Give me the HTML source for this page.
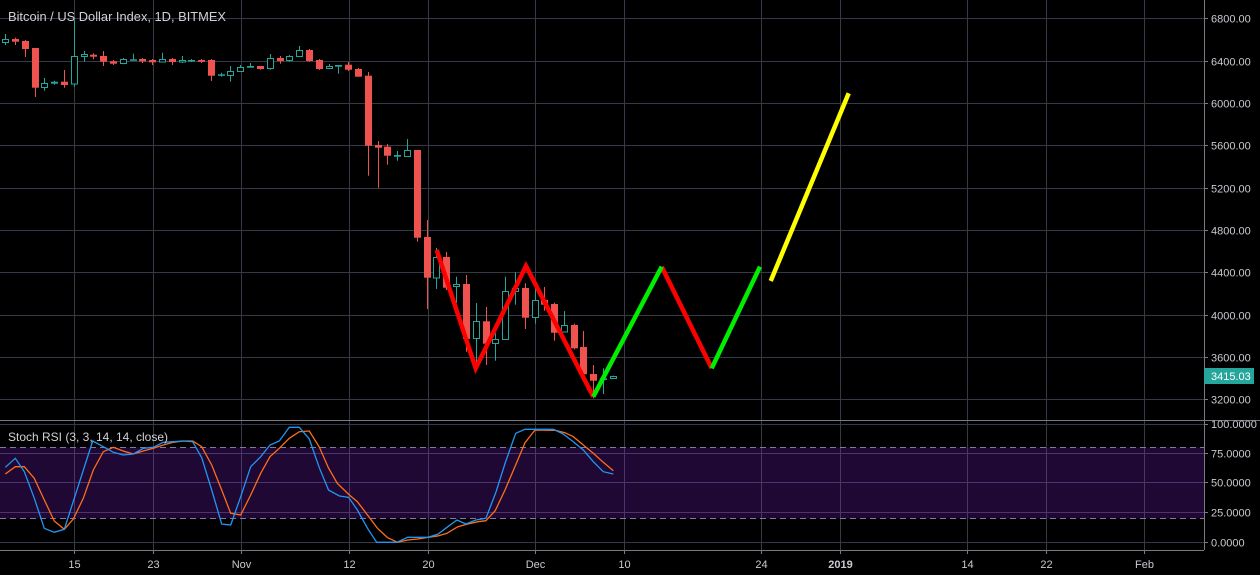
<!DOCTYPE html>
<html><head><meta charset="utf-8"><style>
html,body{margin:0;padding:0;background:#000;}
svg{display:block;}
text{font-family:"Liberation Sans",sans-serif;}
</style></head><body>
<svg width="1260" height="575" viewBox="0 0 1260 575" xmlns="http://www.w3.org/2000/svg">
<rect width="1260" height="575" fill="#000"/>
<!-- vertical grid -->
<g stroke="#363a48" stroke-width="1">
<line x1="74.5" y1="0" x2="74.5" y2="550"/>
<line x1="153.5" y1="0" x2="153.5" y2="550"/>
<line x1="241.5" y1="0" x2="241.5" y2="550"/>
<line x1="349.5" y1="0" x2="349.5" y2="550"/>
<line x1="428.5" y1="0" x2="428.5" y2="550"/>
<line x1="535.5" y1="0" x2="535.5" y2="550"/>
<line x1="624.5" y1="0" x2="624.5" y2="550"/>
<line x1="761.5" y1="0" x2="761.5" y2="550"/>
<line x1="840.5" y1="0" x2="840.5" y2="550"/>
<line x1="967.5" y1="0" x2="967.5" y2="550"/>
<line x1="1046.5" y1="0" x2="1046.5" y2="550"/>
<line x1="1144.5" y1="0" x2="1144.5" y2="550"/>
<!-- horizontal price grid -->
<line x1="0" y1="18.5" x2="1204" y2="18.5"/>
<line x1="0" y1="61.5" x2="1204" y2="61.5"/>
<line x1="0" y1="103.5" x2="1204" y2="103.5"/>
<line x1="0" y1="145.5" x2="1204" y2="145.5"/>
<line x1="0" y1="188.5" x2="1204" y2="188.5"/>
<line x1="0" y1="230.5" x2="1204" y2="230.5"/>
<line x1="0" y1="272.5" x2="1204" y2="272.5"/>
<line x1="0" y1="315.5" x2="1204" y2="315.5"/>
<line x1="0" y1="357.5" x2="1204" y2="357.5"/>
<line x1="0" y1="399.5" x2="1204" y2="399.5"/>
<!-- rsi grid -->
<line x1="0" y1="424.5" x2="1204" y2="424.5"/>
<line x1="0" y1="453.5" x2="1204" y2="453.5"/>
<line x1="0" y1="482.5" x2="1204" y2="482.5"/>
<line x1="0" y1="512.5" x2="1204" y2="512.5"/>
<line x1="0" y1="542.5" x2="1204" y2="542.5"/>
</g>
<!-- rsi band -->
<rect x="0" y="447.5" width="1204" height="71" fill="rgba(155,40,255,0.2)"/>
<g stroke="#85799a" stroke-width="1" stroke-dasharray="6,4">
<line x1="0" y1="447.5" x2="1204" y2="447.5"/>
<line x1="0" y1="518.5" x2="1204" y2="518.5"/>
</g>

<!-- red candles -->
<g fill="#ef5350" stroke="none">
<rect x="12" y="39" width="7" height="2.7"/><rect x="15" y="37.7" width="1" height="7.3"/>
<rect x="22" y="41" width="7" height="8"/><rect x="25" y="40" width="1" height="17"/>
<rect x="32" y="48" width="7" height="39.7"/><rect x="35" y="48" width="1" height="49"/>
<rect x="61" y="81.7" width="7" height="3.3"/><rect x="64" y="70" width="1" height="17.7"/>
<rect x="90" y="54.7" width="7" height="2"/><rect x="93" y="53.3" width="1" height="6"/>
<rect x="100" y="56" width="7" height="5.7"/><rect x="103" y="51" width="1" height="15"/>
<rect x="110" y="61.3" width="7" height="2.4"/><rect x="113" y="60" width="1" height="5"/>
<rect x="139" y="59" width="7" height="2.3"/><rect x="142" y="58" width="1" height="5"/>
<rect x="149" y="60" width="7" height="2.3"/><rect x="152" y="59" width="1" height="6"/>
<rect x="169" y="59" width="7" height="3"/><rect x="172" y="58" width="1" height="7"/>
<rect x="198" y="60" width="7" height="1.8"/><rect x="201" y="59" width="1" height="4"/>
<rect x="208" y="60" width="7" height="15.7"/><rect x="211" y="59" width="1" height="22"/>
<rect x="257" y="66" width="7" height="3"/><rect x="260" y="66" width="1" height="3.7"/>
<rect x="277" y="58" width="7" height="3"/><rect x="280" y="56" width="1" height="7.7"/>
<rect x="306" y="50" width="7" height="11"/><rect x="309" y="49" width="1" height="12.7"/>
<rect x="316" y="60" width="7" height="9"/><rect x="319" y="59" width="1" height="11"/>
<rect x="345" y="64.7" width="7" height="5"/><rect x="348" y="62" width="1" height="9"/>
<rect x="355" y="69" width="7" height="7.7"/><rect x="358" y="68" width="1" height="8.7"/>
<rect x="365" y="75.7" width="7" height="70"/><rect x="368" y="72" width="1" height="103.7"/>
<rect x="375" y="145" width="7" height="2.7"/><rect x="378" y="141" width="1" height="46.7"/>
<rect x="384" y="146.7" width="7" height="9"/><rect x="387" y="144" width="1" height="20.7"/>
<rect x="414" y="150" width="7" height="87.7"/><rect x="417" y="150" width="1" height="91.7"/>
<rect x="424" y="237" width="7" height="40.7"/><rect x="427" y="220" width="1" height="89"/>
<rect x="443" y="257" width="7" height="30.7"/><rect x="446" y="252" width="1" height="38"/>
<rect x="463" y="284" width="7" height="55"/><rect x="466" y="275" width="1" height="76.7"/>
<rect x="483" y="321.3" width="7" height="22.4"/><rect x="486" y="307" width="1" height="58"/>
<rect x="522" y="288" width="7" height="29.7"/><rect x="525" y="283.3" width="1" height="45.7"/>
<rect x="541" y="300" width="7" height="4.7"/><rect x="544" y="287" width="1" height="23.7"/>
<rect x="551" y="304" width="7" height="28.7"/><rect x="554" y="302.7" width="1" height="38"/>
<rect x="571" y="325" width="7" height="23.3"/><rect x="574" y="323.7" width="1" height="25.6"/>
<rect x="580" y="347" width="7" height="27.3"/><rect x="583" y="331" width="1" height="45"/>
<rect x="590" y="374" width="7" height="6.7"/><rect x="593" y="365" width="1" height="33.3"/>
</g>

<!-- teal candles: wicks -->
<g fill="#26a69a">
<rect x="5" y="34" width="1" height="11"/>
<rect x="44" y="78" width="1" height="12.7"/>
<rect x="54" y="80.7" width="1" height="4"/>
<rect x="74" y="20" width="1" height="66.7"/>
<rect x="84" y="51" width="1" height="10.7"/>
<rect x="123" y="58" width="1" height="6.3"/>
<rect x="133" y="53.7" width="1" height="6.6"/>
<rect x="162" y="52.7" width="1" height="9.3"/>
<rect x="182" y="56" width="1" height="7"/>
<rect x="191" y="59" width="1" height="3"/>
<rect x="221" y="72.7" width="1" height="4"/>
<rect x="230" y="66" width="1" height="15.7"/>
<rect x="240" y="65" width="1" height="6.7"/>
<rect x="250" y="63" width="1" height="4.7"/>
<rect x="270" y="54" width="1" height="15.7"/>
<rect x="289" y="55" width="1" height="6.7"/>
<rect x="299" y="46" width="1" height="10.7"/>
<rect x="329" y="64" width="1" height="4.7"/>
<rect x="338" y="65" width="1" height="8.7"/>
<rect x="397" y="151" width="1" height="9.7"/>
<rect x="407" y="139" width="1" height="17.7"/>
<rect x="436" y="248" width="1" height="41"/>
<rect x="456" y="276.7" width="1" height="26.3"/>
<rect x="476" y="303" width="1" height="67.7"/>
<rect x="495" y="333.3" width="1" height="27.4"/>
<rect x="505" y="276.7" width="1" height="63"/>
<rect x="515" y="272.3" width="1" height="32.4"/>
<rect x="535" y="286.7" width="1" height="37"/>
<rect x="564" y="311" width="1" height="21.3"/>
<rect x="603" y="368.3" width="1" height="25.7"/>
<rect x="613" y="375.7" width="1" height="3.3"/>
<!-- small solid bodies -->
<rect x="51" y="81.7" width="7" height="2"/>
<rect x="130" y="59.3" width="7" height="1.5"/>
<rect x="188" y="60" width="7" height="1.5"/>
<rect x="218" y="74.3" width="7" height="1.5"/>
<rect x="247" y="66" width="7" height="1.7"/>
<rect x="335" y="65" width="7" height="1.7"/>
<rect x="394" y="155" width="7" height="1.7"/>
<rect x="600" y="378.3" width="7" height="1.7"/>
</g>
<!-- hollow bodies -->
<g fill="#000" stroke="#26a69a" stroke-width="1">
<rect x="2.5" y="39.5" width="6" height="3"/>
<rect x="41.5" y="83.5" width="6" height="4"/>
<rect x="71.5" y="56.5" width="6" height="27.5"/>
<rect x="81.5" y="54.5" width="6" height="2"/>
<rect x="120.5" y="59.5" width="6" height="4"/>
<rect x="159.5" y="59.5" width="6" height="2.5"/>
<rect x="179.5" y="60.5" width="6" height="1.5"/>
<rect x="227.5" y="71.5" width="6" height="4"/>
<rect x="237.5" y="67.5" width="6" height="4"/>
<rect x="267.5" y="58.5" width="6" height="10"/>
<rect x="286.5" y="56.5" width="6" height="4"/>
<rect x="296.5" y="50.5" width="6" height="6"/>
<rect x="326.5" y="66.5" width="6" height="2"/>
<rect x="404.5" y="150.5" width="6" height="6"/>
<rect x="433.5" y="257.5" width="6" height="20.5"/>
<rect x="453.5" y="284.5" width="6" height="2"/>
<rect x="473.5" y="321.5" width="6" height="17"/>
<rect x="492.5" y="339.5" width="6" height="4"/>
<rect x="502.5" y="291.5" width="6" height="48"/>
<rect x="512.5" y="288.5" width="6" height="3"/>
<rect x="532.5" y="300.5" width="6" height="17"/>
<rect x="561.5" y="325.5" width="6" height="6.5"/>
<rect x="610.5" y="376.5" width="6" height="2"/>
</g>

<!-- drawn lines -->
<g fill="none" stroke-width="4.5" stroke-linejoin="miter" stroke-linecap="butt">
<polyline points="436.7,250 475.7,368.3 526,266 593.3,396.7" stroke="#ff0000"/>
<polyline points="661.7,266.7 711.7,368.3" stroke="#ff0000"/>
<polyline points="593.3,396.7 661.7,266.7" stroke="#00ee00"/>
<polyline points="711.7,368.3 760,266.7" stroke="#00ee00"/>
<polyline points="770.7,281 848.7,93.3" stroke="#ffff00"/>
</g>

<!-- stoch rsi lines -->
<polyline fill="none" stroke="#ff6d1a" stroke-width="1.3" points="5.3,474 15.3,466.7 24.3,466.7 34.3,478.3 44.3,500 54.3,521 64.3,529.3 73.3,519 83.3,498.3 93.3,470 103.3,451.7 113.3,447.3 123.3,451 133.3,454 143.3,451 153.3,448.3 163.3,445 173.3,442.3 182.7,441 192.7,441 201.7,446.7 211.7,465 221.7,490 230.7,513.3 240.7,515 250.7,495 260.7,473.3 270,456.7 279.3,448.3 289.3,438.3 299.3,431.7 309.3,431 319.3,447 328.5,468 337.3,483.3 349.4,495 357.4,501.7 367.5,515 377.5,528.3 387.6,537.7 397.6,542.3 407.6,540 417.7,539 428,537.3 437.8,536 447,533.3 457.8,526.7 467.9,524 478,521.7 485.9,520.7 495.2,510.7 505,490 514.9,466.7 525,442.7 535,430 555,430.3 565,432.7 573.3,436.7 583.3,445 593.3,453.3 603.3,462.3 613.3,470.7"/>
<polyline fill="none" stroke="#2196f3" stroke-width="1.3" points="5.3,467.3 15.3,458.3 24.3,471.7 34.3,498.3 44.3,528.3 54.3,532.3 64.3,529.3 92.7,441 103.3,446.7 113.3,452.3 123.3,455 133.3,454 143.3,448.3 153.3,447.3 163.3,442.3 173.3,441.7 182.7,441 192.7,441.7 201.7,457.7 211.7,490 221.7,524 230.7,525 240.7,496.7 250.7,466.7 260.7,456.7 270,445 279.3,441 289.3,427.3 299.3,427.3 309.3,439 319.3,467.7 328.5,490 339.4,496 348.6,497.3 357.4,510 367.5,528.3 376.7,542.3 396.8,542.3 407.6,537.3 428,537.3 437.8,534.3 447,527.3 457,520 465.9,524 475.9,520 485.9,518.3 496,492 505.5,462 515.7,433.3 525,429.3 553.3,429.3 563.3,434 573.3,441.7 583.3,450 593.3,461.7 603.3,471.7 613.3,474"/>

<!-- axes -->
<g stroke="#787b86" stroke-width="1">
<line x1="1204.5" y1="0" x2="1204.5" y2="550"/>
<line x1="0" y1="550.5" x2="1204" y2="550.5"/>
<line x1="0" y1="420.5" x2="1260" y2="420.5"/>
<!-- price ticks -->
<line x1="1204" y1="18.5" x2="1208" y2="18.5"/>
<line x1="1204" y1="61.5" x2="1208" y2="61.5"/>
<line x1="1204" y1="103.5" x2="1208" y2="103.5"/>
<line x1="1204" y1="145.5" x2="1208" y2="145.5"/>
<line x1="1204" y1="188.5" x2="1208" y2="188.5"/>
<line x1="1204" y1="230.5" x2="1208" y2="230.5"/>
<line x1="1204" y1="272.5" x2="1208" y2="272.5"/>
<line x1="1204" y1="315.5" x2="1208" y2="315.5"/>
<line x1="1204" y1="357.5" x2="1208" y2="357.5"/>
<line x1="1204" y1="399.5" x2="1208" y2="399.5"/>
<line x1="1204" y1="424.5" x2="1208" y2="424.5"/>
<line x1="1204" y1="453.5" x2="1208" y2="453.5"/>
<line x1="1204" y1="482.5" x2="1208" y2="482.5"/>
<line x1="1204" y1="512.5" x2="1208" y2="512.5"/>
<line x1="1204" y1="542.5" x2="1208" y2="542.5"/>
<!-- time ticks -->
<line x1="74.5" y1="550" x2="74.5" y2="554"/>
<line x1="153.5" y1="550" x2="153.5" y2="554"/>
<line x1="241.5" y1="550" x2="241.5" y2="554"/>
<line x1="349.5" y1="550" x2="349.5" y2="554"/>
<line x1="428.5" y1="550" x2="428.5" y2="554"/>
<line x1="535.5" y1="550" x2="535.5" y2="554"/>
<line x1="624.5" y1="550" x2="624.5" y2="554"/>
<line x1="761.5" y1="550" x2="761.5" y2="554"/>
<line x1="840.5" y1="550" x2="840.5" y2="554"/>
<line x1="967.5" y1="550" x2="967.5" y2="554"/>
<line x1="1046.5" y1="550" x2="1046.5" y2="554"/>
<line x1="1144.5" y1="550" x2="1144.5" y2="554"/>
</g>

<!-- last price label -->
<rect x="1204" y="368" width="50" height="16" fill="#26a69a"/>
<text x="1211" y="380" font-size="11" fill="#ffffff">3415.03</text>

<!-- price labels -->
<g font-size="11" fill="#c8cad0">
<text x="1211" y="22.5">6800.00</text>
<text x="1211" y="65.5">6400.00</text>
<text x="1211" y="107.5">6000.00</text>
<text x="1211" y="149.5">5600.00</text>
<text x="1211" y="192.5">5200.00</text>
<text x="1211" y="234.5">4800.00</text>
<text x="1211" y="276.5">4400.00</text>
<text x="1211" y="319.5">4000.00</text>
<text x="1211" y="361.5">3600.00</text>
<text x="1211" y="403.5">3200.00</text>
<text x="1211" y="428">100.0000</text>
<text x="1211" y="457.5">75.0000</text>
<text x="1211" y="486.5">50.0000</text>
<text x="1211" y="516.5">25.0000</text>
<text x="1211" y="546.5">0.0000</text>
</g>

<!-- time labels -->
<g font-size="11" fill="#c8cad0" text-anchor="middle">
<text x="74.5" y="568">15</text>
<text x="153.5" y="568">23</text>
<text x="241.5" y="568">Nov</text>
<text x="349.5" y="568">12</text>
<text x="428.5" y="568">20</text>
<text x="535.5" y="568">Dec</text>
<text x="624.5" y="568">10</text>
<text x="761.5" y="568">24</text>
<text x="840.5" y="568" font-weight="bold">2019</text>
<text x="967.5" y="568">14</text>
<text x="1046.5" y="568">22</text>
<text x="1144.5" y="568">Feb</text>
</g>

<!-- titles -->
<text x="8" y="21" font-size="13" fill="#cfd1d6" textLength="218" lengthAdjust="spacingAndGlyphs">Bitcoin / US Dollar Index, 1D, BITMEX</text>
<text x="8" y="441" font-size="12" fill="#cfd1d6" textLength="160" lengthAdjust="spacingAndGlyphs">Stoch RSI (3, 3, 14, 14, close)</text>
</svg>
</body></html>
